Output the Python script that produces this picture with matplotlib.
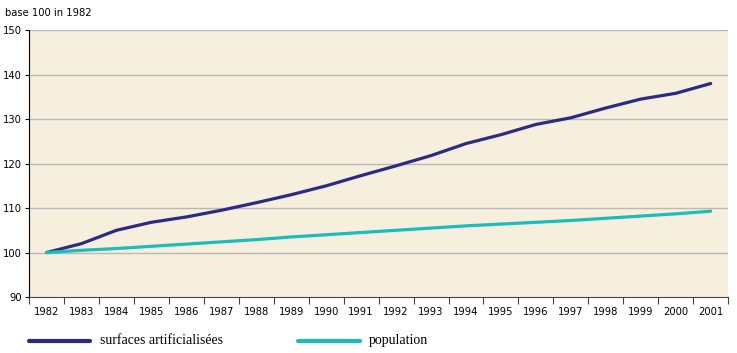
import matplotlib.pyplot as plt
from matplotlib.lines import Line2D

# Donnees (base 100 en 1982)
annees = list(range(1982, 2002))
surfaces = [100, 102.0, 105.0, 106.8, 108.0, 109.5, 111.2, 113.0, 115.0, 117.3,
            119.5, 121.8, 124.5, 126.5, 128.8, 130.3, 132.5, 134.5, 135.8, 138.0]
population = [100, 100.5, 100.9, 101.4, 101.9, 102.4, 102.9, 103.5, 104.0, 104.5,
              105.0, 105.5, 106.0, 106.4, 106.8, 107.2, 107.7, 108.2, 108.7, 109.3]
y_ticks = [90, 100, 110, 120, 130, 140, 150]

plt.rcParams['font.family'] = ['DejaVu Sans']
plt.rcParams['font.stretch'] = 'condensed'

fig = plt.figure(figsize=(7.37, 3.53), dpi=100)
ax = fig.add_axes([0.0394, 0.1586, 0.9486, 0.756])
ax.set_facecolor("#f6efdd")

x = list(range(len(annees)))
ax.plot(x, surfaces, color="#2b2a85", lw=2.3, solid_capstyle="round", zorder=3)
ax.plot(x, population, color="#1cbcbc", lw=2.3, solid_capstyle="round", zorder=3)

ax.set_xlim(-0.5, len(annees) - 0.5)
ax.set_ylim(90, 150)
ax.set_yticks(y_ticks)
ax.set_yticklabels([str(v) for v in y_ticks], fontsize=8)
for v in y_ticks[1:]:
    ax.axhline(v, color="#b8b8b8", lw=1, zorder=1)

# ticks entre les categories, etiquettes au centre
ax.set_xticks([i - 0.5 for i in range(len(annees) + 1)])
ax.set_xticklabels([])
ax.set_xticks(x, minor=True)
ax.set_xticklabels([str(a) for a in annees], minor=True, fontsize=8)
ax.tick_params(axis="x", which="major", length=5, color="#444444", direction="out")
ax.tick_params(axis="x", which="minor", length=0, pad=7)
ax.tick_params(axis="y", length=3, pad=2)

for s in ["top", "right"]:
    ax.spines[s].set_visible(False)
ax.spines["left"].set_color("black")
ax.spines["bottom"].set_color("#444444")

fig.text(0.007, 0.955, "base 100 in 1982", fontsize=8)

# legende
fig.add_artist(Line2D([0.04, 0.122], [0.034, 0.034], color="#2b2a85", lw=3, solid_capstyle="round"))
fig.text(0.136, 0.034, "surfaces artificialisées", fontsize=10, family="Liberation Serif", va="center")
fig.add_artist(Line2D([0.405, 0.488], [0.034, 0.034], color="#1cbcbc", lw=3, solid_capstyle="round"))
fig.text(0.5, 0.034, "population", fontsize=10, family="Liberation Serif", va="center")

plt.savefig("out.png", dpi=100)
